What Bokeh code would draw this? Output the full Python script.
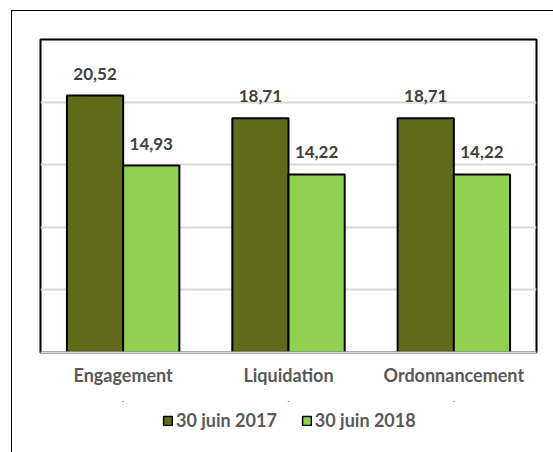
from bokeh.plotting import figure
from bokeh.layouts import column
from bokeh.models import (ColumnDataSource, FactorRange, Range1d, LabelSet,
                          Legend, LegendItem)
from bokeh.transform import dodge
from bokeh.core.properties import value
from bokeh.embed import file_html
from bokeh.resources import INLINE

categories = ["Engagement", "Liquidation", "Ordonnancement"]
series_names = ["30 juin 2017", "30 juin 2018"]
values_2017 = [20.52, 18.71, 18.71]
values_2018 = [14.93, 14.22, 14.22]

FONT = "Lato"
DARK = "#606B1A"
LIGHT = "#92D050"
COLORS = [DARK, LIGHT]

def fmt(v):
    return f"{v:.2f}".replace(".", ",")

source = ColumnDataSource(data=dict(
    cat=categories,
    v2017=values_2017,
    v2018=values_2018,
    l2017=[fmt(v) for v in values_2017],
    l2018=[fmt(v) for v in values_2018],
))

p = figure(x_range=FactorRange(*categories, range_padding=0),
           y_range=Range1d(0, 25),
           width=541, height=390,
           output_backend="svg", toolbar_location=None,
           min_border_left=28, min_border_right=17,
           min_border_top=28, min_border_bottom=49)

r1 = p.vbar(x=dodge("cat", -0.17, range=p.x_range), top="v2017", width=0.34,
            source=source, fill_color=DARK, line_color="black", line_width=2)
r2 = p.vbar(x=dodge("cat", 0.17, range=p.x_range), top="v2018", width=0.34,
            source=source, fill_color=LIGHT, line_color="black", line_width=2)

for col, off in (("l2017", -0.17), ("l2018", 0.17)):
    p.add_layout(LabelSet(x=dodge("cat", off, range=p.x_range), y=col.replace("l", "v"),
                          text=col, source=source, text_align="center",
                          text_baseline="alphabetic", y_offset=16,
                          text_font=value(FONT), text_font_style="bold",
                          text_font_size="17px", text_color="#404040"))

p.outline_line_color = "black"
p.outline_line_width = 2
p.xgrid.grid_line_color = None
p.ygrid.grid_line_color = "#d9d9d9"
p.ygrid.grid_line_width = 2
p.yaxis.visible = False
p.yaxis.ticker = [5, 10, 15, 20]
p.ygrid.ticker = [5, 10, 15, 20]

ax = p.xaxis[0]
ax.axis_line_color = "#d9d9d9"
ax.axis_line_width = 2
ax.major_tick_line_color = None
ax.minor_tick_line_color = None
ax.major_label_standoff = 5
ax.major_label_text_font = FONT
ax.major_label_text_font_style = "bold"
ax.major_label_text_font_size = "18px"
ax.major_label_text_color = "#595959"

# legend strip: degenerate (zero-size) proxy bars from the same data, outside the visible y-range
p2 = figure(width=541, height=51, x_range=FactorRange(*categories),
            y_range=Range1d(-1001, -1000),
            output_backend="svg", toolbar_location=None, min_border=0)
p2.xaxis.visible = False
p2.yaxis.visible = False
p2.grid.visible = False
p2.outline_line_color = None
items = []
for name, color, col in zip(series_names, COLORS, ["v2017", "v2018"]):
    rr = p2.vbar(x="cat", top=col, bottom=col, width=0, source=source,
                 fill_color=color, line_color="black", line_width=1.5,
                 line_cap="butt")
    items.append(LegendItem(label=name, renderers=[rr]))
legend = Legend(items=items, orientation="horizontal", location=(122, 21),
                glyph_width=11, glyph_height=11, label_standoff=3, spacing=24,
                padding=0, margin=0, border_line_color=None,
                background_fill_alpha=0,
                label_text_font=FONT, label_text_font_style="bold",
                label_text_font_size="18px", label_text_color="#595959")
p2.add_layout(legend)

layout = column(p, p2, spacing=0, margin=(10, 0, 0, 11),
                styles={"border-left": "1px solid black",
                        "border-top": "1px solid black"})

open("out.html", "w").write(file_html(layout, INLINE))
